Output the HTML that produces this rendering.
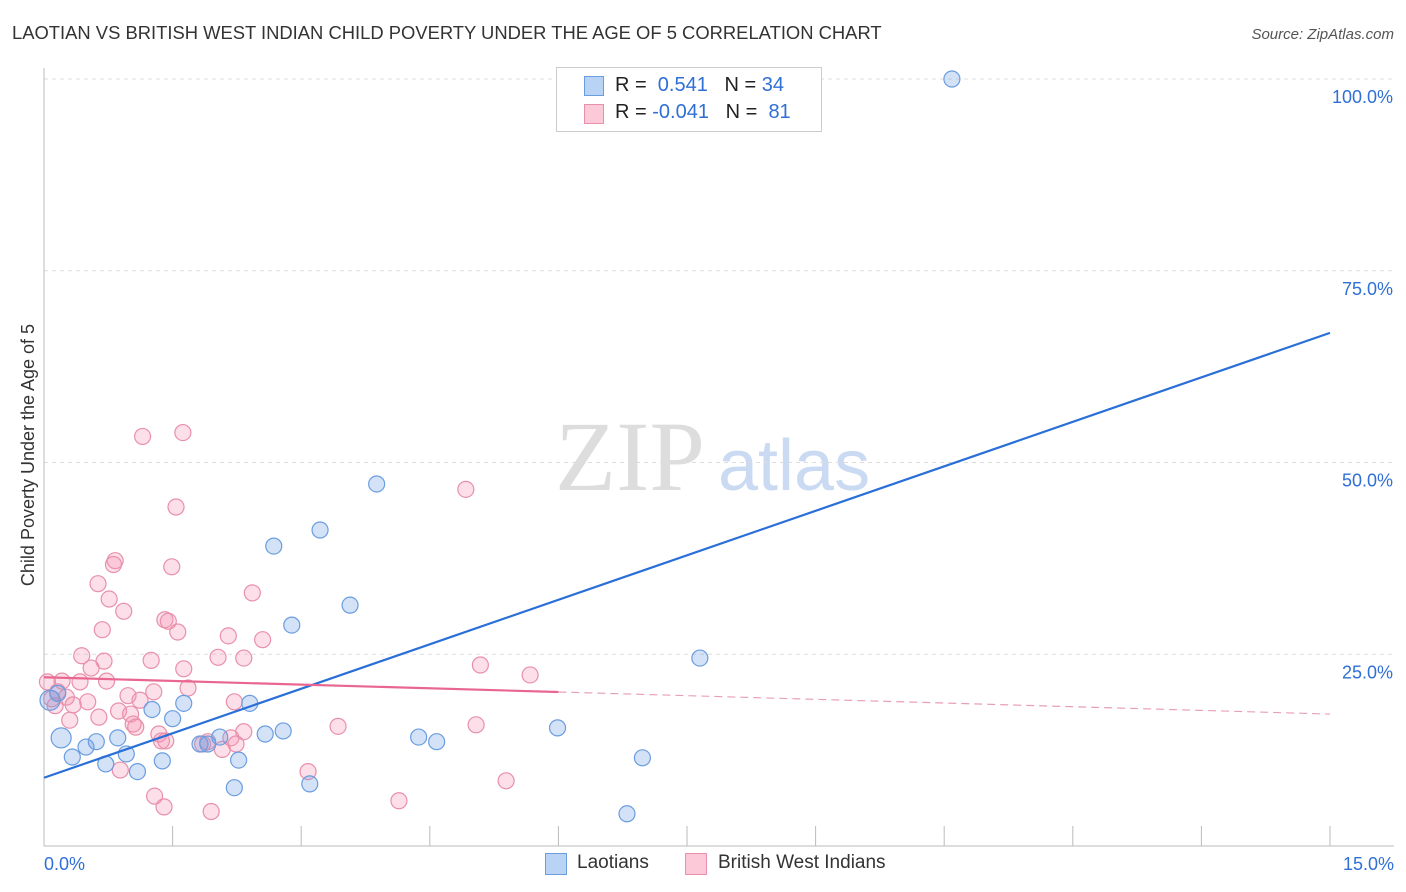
<!DOCTYPE html>
<html><head><meta charset="utf-8">
<style>
body{margin:0;background:#fff;font-family:"Liberation Sans",sans-serif;}
#wrap{position:relative;width:1406px;height:892px;overflow:hidden;}
</style></head>
<body>
<div id="wrap">
<svg id="svg" width="1406" height="892">
<text x="12" y="39" font-size="18.4" fill="#333">LAOTIAN VS BRITISH WEST INDIAN CHILD POVERTY UNDER THE AGE OF 5 CORRELATION CHART</text>
<text x="1394" y="39" font-size="15" fill="#555" font-style="italic" text-anchor="end">Source: ZipAtlas.com</text>
<text x="34" y="455" font-size="18" fill="#333" text-anchor="middle" transform="rotate(-90 34 455)">Child Poverty Under the Age of 5</text>
<text x="555" y="490" font-size="100" fill="#ddd" font-family="Liberation Serif,serif">ZIP</text>
<text x="718" y="490" font-size="72" fill="#c9daf2">atlas</text>
<g id="grid"></g><g id="pts"></g><g id="lines"></g>
</svg>
<div style="position:absolute;left:556px;top:67px;width:264px;height:63px;border:1px solid #ccc;background:#fff;font-size:20px;color:#222">
 <div style="position:absolute;left:27px;top:8px;width:18px;height:18px;background:#b9d3f5;border:1px solid #6a9de0"></div>
 <div style="position:absolute;left:58px;top:6px">R = &nbsp;<span style="color:#2f6fd6">0.541</span> &nbsp; N = <span style="color:#2f6fd6">34</span></div>
 <div style="position:absolute;left:27px;top:36px;width:18px;height:18px;background:#fbc9d8;border:1px solid #e890ab"></div>
 <div style="position:absolute;left:58px;top:33px">R = <span style="color:#2f6fd6">-0.041</span> &nbsp; N = &nbsp;<span style="color:#2f6fd6">81</span></div>
</div>
<div style="position:absolute;left:545px;top:853px;width:20px;height:20px;background:#b9d3f5;border:1px solid #6a9de0"></div>
<div style="position:absolute;left:577px;top:852px;font-size:19px;color:#333">Laotians</div>
<div style="position:absolute;left:685px;top:853px;width:20px;height:20px;background:#fbc9d8;border:1px solid #e890ab"></div>
<div style="position:absolute;left:718px;top:852px;font-size:19px;color:#333">British West Indians</div>
</div>
<script>
const yTicks=[25,50,75,100];
const yTickLabels=["25.0%","50.0%","75.0%","100.0%"];
const xTickLabels=["0.0%","15.0%"];
const blueX=[10.59,3.88,3.22,2.68,3.57,2.89,7.65,1.63,2.40,1.50,1.26,0.20,0.49,0.61,0.86,0.96,0.72,1.09,1.38,1.82,1.91,2.05,2.27,2.22,2.58,2.79,3.10,4.37,4.58,5.99,6.98,6.80,0.33,0.07,0.16];
const blueY=[100,47.2,41.2,39.1,31.4,28.8,24.5,18.6,18.6,16.6,17.8,14.1,12.9,13.6,14.1,12.0,10.7,9.7,11.1,13.3,13.3,14.2,11.2,7.6,14.6,15.0,8.1,14.2,13.6,15.4,11.5,4.2,11.6,19.0,19.9];
const bigBlue=[11,33];
const pinkX=[1.15,1.62,1.54,4.92,0.83,0.81,1.49,0.63,2.43,0.76,0.93,1.41,1.45,1.56,0.68,2.15,2.55,0.44,0.70,1.25,2.03,2.33,5.09,5.67,0.55,1.63,0.21,0.42,0.73,1.68,1.28,0.98,2.22,0.26,0.51,1.12,0.34,0.87,1.01,0.13,0.30,0.64,1.04,1.07,3.43,5.04,1.34,1.42,2.18,2.33,1.91,2.08,1.37,1.85,2.24,0.89,3.08,5.39,1.29,4.14,1.40,1.95,0.04,0.16,0.09];
const pinkY=[53.4,53.9,44.2,46.5,37.2,36.7,36.4,34.2,33.0,32.2,30.6,29.5,29.3,27.9,28.2,27.4,26.9,24.8,24.1,24.2,24.6,24.5,23.6,22.3,23.2,23.1,21.5,21.4,21.5,20.6,20.1,19.6,18.8,19.4,18.8,19.0,18.4,17.6,17.2,18.3,16.4,16.8,15.9,15.5,15.6,15.8,14.6,13.7,14.1,14.9,13.6,12.6,13.7,13.3,13.3,9.9,9.7,8.5,6.5,5.9,5.1,4.5,21.4,20.1,19.2];
const blueLine=[8.9,66.9], pinkLine=[22.0,17.2];
const X0=44,X1=1330,Y0=846,Y1=79;
const sx=v=>X0+(X1-X0)*v/15, sy=v=>Y0-(Y0-Y1)*v/100;
const NS="http://www.w3.org/2000/svg";
function mk(parent,tag,attrs){const e=document.createElementNS(NS,tag);for(const k in attrs)e.setAttribute(k,attrs[k]);parent.appendChild(e);return e;}
const g=document.getElementById('grid');
yTicks.forEach((t,i)=>{
 const l=mk(g,'line',{x1:X0,x2:1394,y1:sy(t),y2:sy(t),stroke:'#ddd','stroke-dasharray':'4,4'});
 
 
 const tx=mk(g,'text',{x:1393,y:sy(t)+24,'font-size':18,fill:'#2f6fd6','text-anchor':'end'});
 tx.textContent=yTickLabels[i];
 
 
});
const ax=mk(g,'line',{x1:X0,x2:X0,y1:68,y2:Y0,stroke:'#bbb'});


const bx=mk(g,'line',{x1:X0,x2:1394,y1:Y0,y2:Y0,stroke:'#bbb'});


for(let i=0;i<=10;i++){const t=mk(g,'line',{x1:sx(i*1.5),x2:sx(i*1.5),y1:Y0,y2:826,stroke:'#bbb'});
 
 }
[[X0,'start'],[1394,'end']].forEach((p,i)=>{const t=mk(g,'text',{x:p[0],y:870,'font-size':18,fill:'#2f6fd6','text-anchor':p[1]});t.textContent=xTickLabels[i];
 
 });
const P=document.getElementById('pts');
pinkX.forEach((x,i)=>{const c=mk(P,'circle',{cx:sx(x),cy:sy(pinkY[i]),r:8,fill:'rgba(245,150,180,0.3)',stroke:'#e890ab','stroke-width':1.2});
 
 });
blueX.forEach((x,i)=>{const c=mk(P,'circle',{cx:sx(x),cy:sy(blueY[i]),r:bigBlue.includes(i)?10:8,fill:'rgba(110,160,230,0.3)',stroke:'#6a9de0','stroke-width':1.2});
 
 });
const L=document.getElementById('lines');
const bl=mk(L,'line',{x1:sx(0),y1:sy(blueLine[0]),x2:sx(15),y2:sy(blueLine[1]),stroke:'#2a6fd8','stroke-width':2.2});


const pm=pinkLine[0]+(pinkLine[1]-pinkLine[0])*6/15;
const pl=mk(L,'line',{x1:sx(0),y1:sy(pinkLine[0]),x2:sx(6),y2:sy(pm),stroke:'#e8668f','stroke-width':2.2});


const pd=mk(L,'line',{x1:sx(6),y1:sy(pm),x2:sx(15),y2:sy(pinkLine[1]),stroke:'#e8a0b6','stroke-width':1.2,'stroke-dasharray':'8,5'});


</script>
</body></html>
